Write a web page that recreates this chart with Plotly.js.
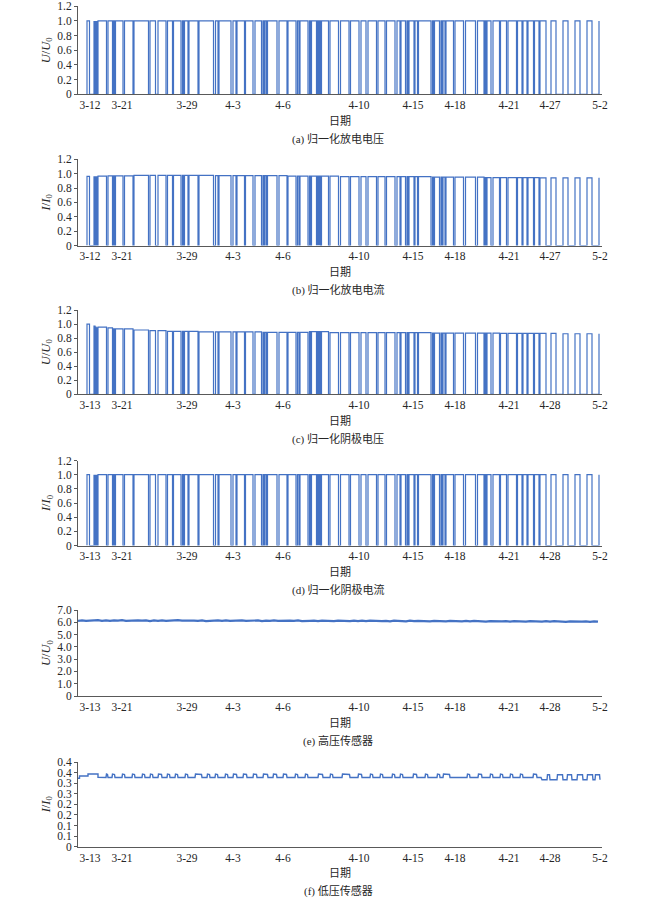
<!DOCTYPE html>
<html>
<head>
<meta charset="utf-8">
<script src="https://cdn.plot.ly/plotly-3.0.1.min.js"></script>
<style>html,body{margin:0;padding:0;background:#fff;}#chart{width:650px;height:899px;}</style>
</head>
<body>
<div id="chart"></div>
<script>
// ---------- DATA ----------
// sample index of each switch-on / switch-off (shared by panels a-d)
const riseIdx = [18,32,34,36,38,40,60,71,75,93,112,144,160,179,191,209,213,222,242,275,282,310,318,335,354,370,374,379,402,420,439,444,463,467,478,480,482,484,487,504,525,545,566,580,600,617,638,646,658,662,674,681,709,713,726,730,736,754,775,799,814,818,830,845,860,879,890,900,913,924,946,970,994,1018,1042];
const fallIdx = [23,33,35,37,39,57,69,73,90,110,141,155,176,189,206,211,220,240,271,280,306,316,333,350,367,372,377,398,418,436,442,460,465,477,479,481,483,485,501,521,542,562,576,597,614,634,644,655,660,672,679,706,711,723,728,734,751,771,795,812,816,826,843,857,877,888,898,911,922,936,956,980,1004,1028];

// x tick labels
const tickIdx = [24,88,218,310,410,562,670,754,862,944,1044];
const tickLabelsAB = ['3-12','3-21','3-29','4-3','4-6','4-10','4-15','4-18','4-21','4-27','5-2'];
const tickLabelsCF = ['3-13','3-21','3-29','4-3','4-6','4-10','4-15','4-18','4-21','4-28','5-2'];

// (a) normalized discharge voltage level, (d) normalized cathode current level
const levelA = [1.0];
const levelD = [1.0];
// (b) normalized discharge current: level from each knot onward
const bKnotIdx = [0,30,44,104,244,404,524,684,804,924];
const bKnotVal = [0.962,0.965,0.970,0.977,0.973,0.966,0.958,0.952,0.946,0.943];
// (c) normalized cathode voltage
const cKnotIdx = [0,30,35,38,42,64,94,124,174,234,364,454,488,684,844,964];
const cKnotVal = [1.0,0.978,0.965,0.955,0.945,0.930,0.915,0.905,0.895,0.888,0.882,0.893,0.878,0.872,0.868,0.862];

// (e) high-pressure sensor, one reading every 8 samples
const eVals = [
6.12,6.16,6.11,6.15,6.13,6.17,6.12,6.15,6.11,6.16,
6.13,6.17,6.12,6.14,6.11,6.16,6.13,6.15,6.10,6.15,
6.12,6.16,6.11,6.14,6.12,6.17,6.13,6.15,6.11,6.14,
6.12,6.15,6.10,6.14,6.12,6.16,6.11,6.15,6.12,6.14,
6.10,6.15,6.11,6.13,6.12,6.15,6.10,6.14,6.11,6.16,
6.12,6.14,6.10,6.13,6.11,6.15,6.10,6.14,6.12,6.13,
6.09,6.14,6.11,6.13,6.10,6.14,6.11,6.13,6.09,6.14,
6.10,6.13,6.09,6.13,6.11,6.14,6.10,6.12,6.08,6.13,
6.10,6.12,6.08,6.13,6.09,6.12,6.10,6.13,6.08,6.11,
6.09,6.12,6.07,6.11,6.09,6.12,6.08,6.11,6.07,6.11,
6.08,6.11,6.06,6.10,6.08,6.11,6.07,6.10,6.06,6.10,
6.07,6.10,6.05,6.09,6.07,6.10,6.06,6.09,6.05,6.09,
6.06,6.09,6.04,6.08,6.06,6.09,6.05,6.08,6.04,6.08,
6.05];
const eStep = 8;

// (f) low-pressure sensor
const fLeadIdx = [0,3,20,40];
const fLeadVal = [0.323,0.334,0.343,0.328];
const fBumpStart = [56,68,88,108,128,144,160,178,194,214,234,258,274,294,310,330,350,370,390,410,434,454,480,504,528,560,584,604,628,644,670,694,718,730,778,800,824,844,864,884,910];
const fBumpEnd   = [60,74,94,114,134,150,168,184,200,220,248,264,280,300,318,338,358,380,398,418,440,460,490,510,544,568,590,610,634,650,678,700,724,744,784,808,830,850,870,890,918];
const fMainLevels = [0.327,0.343];   // base, top
const fTailStart = [938,958,978,998,1018,1034];
const fTailEnd   = [944,970,988,1010,1030,1044];
const fTailLevels = [0.316,0.340];   // base, top

// y ticks
const yTickUnit = [0,0.2,0.4,0.6,0.8,1.0,1.2];
const yTextUnit = ['0','0.2','0.4','0.6','0.8','1.0','1.2'];
const yTickE = [0,1,2,3,4,5,6,7];
const yTextE = ['0','1.0','2.0','3.0','4.0','5.0','6.0','7.0'];
const yTickF = [0,0.05,0.10,0.15,0.20,0.25,0.30,0.35,0.40];
const yTextF = ['0','0.1','0.1','0.2','0.2','0.3','0.3','0.4','0.4'];

const captions = ['(a) 归一化放电电压','(b) 归一化放电电流','(c) 归一化阴极电压','(d) 归一化阴极电流','(e) 高压传感器','(f) 低压传感器'];
const yTitles = ['<i>U</i>/<i>U</i><sub>0</sub>','<i>I</i>/<i>I</i><sub>0</sub>','<i>U</i>/<i>U</i><sub>0</sub>','<i>I</i>/<i>I</i><sub>0</sub>','<i>U</i>/<i>U</i><sub>0</sub>','<i>I</i>/<i>I</i><sub>0</sub>'];

// ---------- BUILD ----------
function stepLookup(knots, vals){
  return function(x){ let v = vals[0]; for(let i=0;i<knots.length;i++){ if(knots[i]<=x) v = vals[i]; } return v; };
}
function squareWave(levelFn){
  const xs=[], ys=[];
  for(let i=0;i<riseIdx.length;i++){
    const r = riseIdx[i], L = levelFn(r);
    if(i < fallIdx.length){ const f = fallIdx[i]; xs.push(r,r,f,f); ys.push(0,L,L,0); }
    else { xs.push(r,r); ys.push(0,L); }
  }
  return {xs, ys};
}
const wA = squareWave(()=>levelA[0]);
const wB = squareWave(stepLookup(bKnotIdx,bKnotVal));
const wC = squareWave(stepLookup(cKnotIdx,cKnotVal));
const wD = squareWave(()=>levelD[0]);

const eX = eVals.map((v,i)=>i*eStep);

const fX=[], fY=[];
for(let i=0;i<fLeadIdx.length;i++){
  fX.push(fLeadIdx[i]); fY.push(fLeadVal[i]);
  if(i<fLeadIdx.length-1){ fX.push(fLeadIdx[i+1]); fY.push(fLeadVal[i]); }
}
for(let i=0;i<fBumpStart.length;i++){
  const s=fBumpStart[i], e=fBumpEnd[i];
  fX.push(s, s+1, e-1, e); fY.push(fMainLevels[0], fMainLevels[1], fMainLevels[1]-0.002, fMainLevels[0]);
}
fX.push(fTailStart[0]-12, fTailStart[0]-10); fY.push(fMainLevels[0], fTailLevels[0]);
for(let i=0;i<fTailStart.length;i++){
  const s=fTailStart[i], e=fTailEnd[i];
  fX.push(s, s+1, e-1, e); fY.push(fTailLevels[0], fTailLevels[1], fTailLevels[1], fTailLevels[0]);
}

const blue = 'rgb(68,114,196)';
const traces = [
  {x:wA.xs, y:wA.ys, xaxis:'x', yaxis:'y', w:1.2},
  {x:wB.xs, y:wB.ys, xaxis:'x2', yaxis:'y2', w:1.2},
  {x:wC.xs, y:wC.ys, xaxis:'x3', yaxis:'y3', w:1.2},
  {x:wD.xs, y:wD.ys, xaxis:'x4', yaxis:'y4', w:1.2},
  {x:eX, y:eVals, xaxis:'x5', yaxis:'y5', w:2.2},
  {x:fX, y:fY, xaxis:'x6', yaxis:'y6', w:1.4}
].map(t=>({type:'scatter', mode:'lines', x:t.x, y:t.y, xaxis:t.xaxis, yaxis:t.yaxis,
  line:{color:blue, width:t.w}, hoverinfo:'skip'}));

// ---------- LAYOUT ----------
const W=650, H=899;
const plotLeft=78, plotRight=602;
const tops=[6.3,159.3,310,460.5,610,762];
const bottoms=[94.3,245.6,394.3,545.6,696,846.7];
const yRanges=[[0,1.2],[0,1.2],[0,1.2],[0,1.2],[0,7],[0,0.4]];
const yTV=[yTickUnit,yTickUnit,yTickUnit,yTickUnit,yTickE,yTickF];
const yTT=[yTextUnit,yTextUnit,yTextUnit,yTextUnit,yTextE,yTextF];
const xTT=[tickLabelsAB,tickLabelsAB,tickLabelsCF,tickLabelsCF,tickLabelsCF,tickLabelsCF];

const serif = 'Liberation Serif, Times New Roman, serif';
const cjk = 'Liberation Serif, Noto Sans CJK SC, serif';
const axisColor = '#595959';
const textColor = '#262626';

const layout = {
  width:W, height:H, margin:{l:0,r:0,t:0,b:0},
  paper_bgcolor:'#fff', plot_bgcolor:'#fff', showlegend:false,
  annotations:[]
};
for(let k=0;k<6;k++){
  const sx = k===0?'':String(k+1);
  layout['xaxis'+sx] = {
    domain:[plotLeft/W, plotRight/W], anchor:'y'+sx, range:[0,1048],
    showline:true, linecolor:axisColor, linewidth:1, showgrid:false, zeroline:false,
    ticks:'', tickvals:tickIdx, ticktext:xTT[k],
    tickfont:{family:serif, size:11.5, color:textColor}, fixedrange:true
  };
  layout['yaxis'+sx] = {
    domain:[1-bottoms[k]/H, 1-tops[k]/H], anchor:'x'+sx, range:yRanges[k],
    showline:true, linecolor:axisColor, linewidth:1, showgrid:false, zeroline:false,
    ticks:'outside', ticklen:3, tickcolor:axisColor, tickwidth:1,
    tickvals:yTV[k], ticktext:yTT[k],
    tickfont:{family:serif, size:11.5, color:textColor}, fixedrange:true
  };
  layout.annotations.push({
    text:'日期', xref:'paper', yref:'paper', x:340/W, y:1-(bottoms[k]+25.5)/H,
    xanchor:'center', yanchor:'middle', showarrow:false,
    font:{family:'Noto Sans CJK SC, sans-serif', size:11, color:textColor}
  });
  layout.annotations.push({
    text:captions[k], xref:'paper', yref:'paper', x:338/W, y:1-(bottoms[k]+44.5)/H,
    xanchor:'center', yanchor:'middle', showarrow:false,
    font:{family:cjk, size:11, color:textColor}
  });
  layout.annotations.push({
    text:yTitles[k], xref:'paper', yref:'paper', x:47/W, y:1-((tops[k]+bottoms[k])/2)/H,
    xanchor:'center', yanchor:'middle', textangle:-90, showarrow:false,
    font:{family:serif, size:12.5, color:textColor}
  });
}

Plotly.newPlot('chart', traces, layout, {displayModeBar:false, staticPlot:true});
</script>
</body>
</html>
